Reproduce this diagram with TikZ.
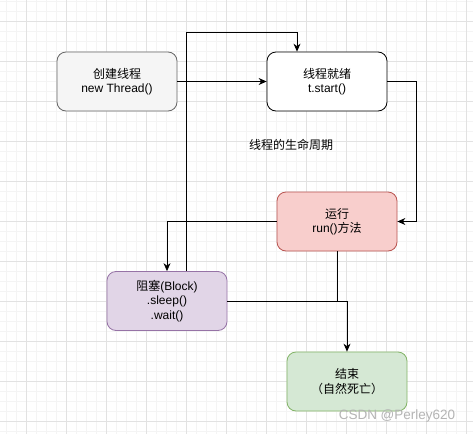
\documentclass[tikz,border=0pt]{standalone}
\usepackage{fontspec}
\setmainfont{Liberation Sans}
\newfontfamily\cjk{Noto Sans CJK SC}
\usetikzlibrary{arrows.meta}
\definecolor{gridminor}{HTML}{F4F4F4}
\definecolor{gridmajor}{HTML}{E2E2E2}
\definecolor{newfill}{HTML}{F5F5F5}
\definecolor{newline}{HTML}{666666}
\definecolor{runfill}{HTML}{F8CECC}
\definecolor{runline}{HTML}{B85450}
\definecolor{blockfill}{HTML}{E1D5E7}
\definecolor{blockline}{HTML}{9673A6}
\definecolor{deadfill}{HTML}{D5E8D4}
\definecolor{deadline}{HTML}{82B366}
\definecolor{mark}{HTML}{B4B4B4}

\begin{document}
\begin{tikzpicture}[x=1pt,y=-1pt,
  state/.style={draw, rounded corners=9pt, minimum width=120pt, minimum height=59pt,
    align=center, font=\fontsize{12}{14.5}\selectfont, line width=0.8pt},
  arr/.style={-{Stealth[length=8pt,width=7pt]}, line width=0.8pt}]
\useasboundingbox (0,0) rectangle (473,434);
% background grid
\fill[white] (0,0) rectangle (473,434);
\foreach \x in {6.7,16.7,...,470} \draw[gridminor,line width=0.5pt] (\x,0) -- (\x,434);
\foreach \y in {1.7,11.7,...,434} \draw[gridminor,line width=0.5pt] (0,\y) -- (473,\y);
\foreach \x in {26.7,66.7,...,470} \draw[gridmajor,line width=0.6pt] (\x,0) -- (\x,434);
\foreach \y in {21.7,61.7,...,434} \draw[gridmajor,line width=0.6pt] (0,\y) -- (473,\y);
% states
\node (create) at (117,81.5) [state, fill=newfill, draw=newline] {{\cjk 创建线程}\\new Thread()};
\node (ready) at (327,81.5) [state, fill=white] {{\cjk 线程就绪}\\t.start()};
\node (run) at (337,221.5) [state, fill=runfill, draw=runline] {{\cjk 运行}\\run(){\cjk 方法}};
\node (block) at (167,301) [state, fill=blockfill, draw=blockline] {{\cjk 阻塞}(Block)\\.sleep()\\.wait()};
\node (dead) at (347,381.5) [state, fill=deadfill, draw=deadline] {{\cjk 结束}\\{\cjk （自然死亡）}};
% title
\node (title) at (291,145) [font=\fontsize{12}{14}\selectfont\cjk] {线程的生命周期};
% turning points
\coordinate (turn) at (186,32);
\coordinate (side) at (416,0);
\coordinate (join) at (dead.north |- block.east);
% lines
\draw[arr] (create) -- (ready);
\draw[arr] (turn |- block.north) -- (turn) -| ([xshift=-30pt]ready.north);
\draw[arr] (ready.east) -| (side |- run.east) -- (run.east);
\draw[arr] (run.west) -| (block.north);
\draw[line width=0.8pt] (run.south) |- (join);
\draw[arr] (block.east) -- (join) -- (dead.north);
% watermark
\node (mark) at (397,416) [text=mark, font=\fontsize{13.5}{15}\selectfont] {CSDN @Perley620};
\end{tikzpicture}
\end{document}
